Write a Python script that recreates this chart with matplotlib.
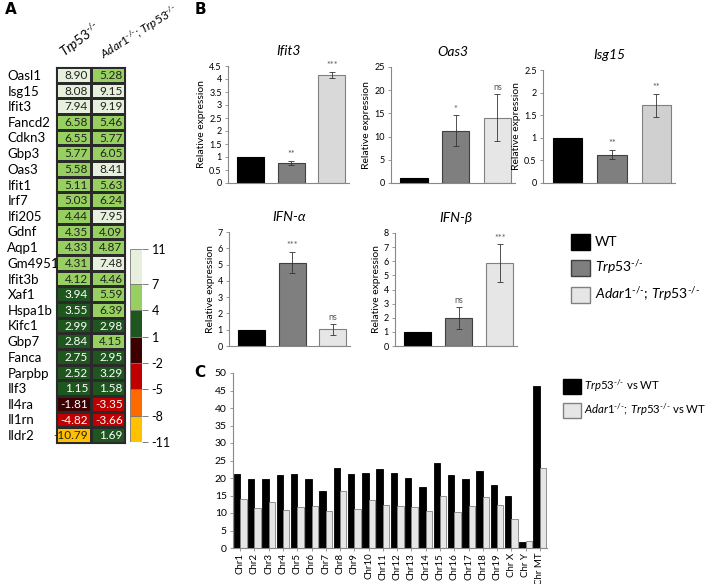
import matplotlib
matplotlib.use("Agg")
import matplotlib.pyplot as plt
import numpy as np
from matplotlib.colors import ListedColormap, BoundaryNorm
from matplotlib.patches import Patch

W, H = 707, 584
plt.rcParams['font.family'] = ['Lato', 'DejaVu Sans']
plt.rcParams['mathtext.fontset'] = 'custom'
plt.rcParams['mathtext.rm'] = 'Lato'
plt.rcParams['mathtext.it'] = 'Lato:italic'
plt.rcParams['mathtext.bf'] = 'Lato:bold'

# ---------------- data ----------------
genes = ["Oasl1", "Isg15", "Ifit3", "Fancd2", "Cdkn3", "Gbp3", "Oas3", "Ifit1", "Irf7",
         "Ifi205", "Gdnf", "Aqp1", "Gm4951", "Ifit3b", "Xaf1", "Hspa1b", "Kifc1", "Gbp7",
         "Fanca", "Parpbp", "Ilf3", "Il4ra", "Il1rn", "Ildr2"]
trp53_fc = [8.90, 8.08, 7.94, 6.58, 6.55, 5.77, 5.58, 5.11, 5.03, 4.44, 4.35, 4.33, 4.31,
            4.12, 3.94, 3.55, 2.99, 2.84, 2.75, 2.52, 1.15, -1.81, -4.82, -10.79]
adar_fc = [5.28, 9.15, 9.19, 5.46, 5.77, 6.05, 8.41, 5.63, 6.24, 7.95, 4.09, 4.87, 7.48,
           4.46, 5.59, 6.39, 2.98, 4.15, 2.95, 3.29, 1.58, -3.35, -3.66, 1.69]
bin_edges = [-11, -8, -5, -2, 1, 4, 7, 11]
bin_colors = ['#ffc000', '#ff6a00', '#c00000', '#3c0000', '#1f561f', '#97d060', '#e6f0dc']

groups = ["WT", "Trp53", "Adar1;Trp53"]
ifit3_mean = [1.0, 0.78, 4.15]
ifit3_err = [0.0, 0.07, 0.12]
ifit3_sig = ["", "**", "***"]
oas3_mean = [1.0, 11.3, 14.1]
oas3_err = [0.0, 3.3, 5.1]
oas3_sig = ["", "*", "ns"]
isg15_mean = [1.0, 0.63, 1.72]
isg15_err = [0.0, 0.11, 0.25]
isg15_sig = ["", "**", "**"]
ifna_mean = [1.0, 5.12, 1.02]
ifna_err = [0.0, 0.65, 0.33]
ifna_sig = ["", "***", "ns"]
ifnb_mean = [1.0, 1.97, 5.85]
ifnb_err = [0.0, 0.8, 1.35]
ifnb_sig = ["", "ns", "***"]

chromosomes = ["Chr1", "Chr2", "Chr3", "Chr4", "Chr5", "Chr6", "Chr7", "Chr8", "Chr9", "Chr10",
               "Chr11", "Chr12", "Chr13", "Chr14", "Chr15", "Chr16", "Chr17", "Chr18", "Chr19",
               "Chr X", "Chr Y", "Chr MT"]
trp53_vs_wt = [21.2, 19.8, 19.6, 21.0, 21.2, 19.8, 16.4, 23.0, 21.2, 21.5, 22.5, 21.4, 20.1,
               17.4, 24.4, 21.0, 19.6, 21.9, 18.1, 14.9, 1.6, 46.2]
adar_vs_wt = [14.1, 11.5, 13.2, 11.0, 11.6, 12.1, 10.6, 16.4, 11.2, 13.6, 12.2, 12.0, 11.7,
              10.6, 15.0, 10.4, 12.1, 14.5, 12.4, 8.4, 2.1, 23.0]

# ---------------- helpers ----------------
def rect(x0, y0, x1, y1):
    return [x0 / W, 1 - y1 / H, (x1 - x0) / W, (y1 - y0) / H]

fig = plt.figure(figsize=(W / 100, H / 100), dpi=100)

TRP = r'$\mathit{Trp53}^{\text{-/-}}$'
ADAR = r'$\mathit{Adar1}^{\text{-/-}}\mathit{;\,Trp53}^{\text{-/-}}$'

# ---------------- Panel A: heatmap ----------------
cmap = ListedColormap(bin_colors)
norm = BoundaryNorm(bin_edges, cmap.N)
axh = fig.add_axes(rect(56, 67, 125, 443))
mat = np.array([trp53_fc, adar_fc]).T
axh.pcolormesh(np.arange(3), np.arange(len(genes) + 1), mat, cmap=cmap, norm=norm,
               edgecolor='#2a2a2a', linewidth=0.8)
axh.set_xlim(0, 2)
axh.set_ylim(len(genes), 0)
axh.set_xticks([])
axh.set_yticks(np.arange(len(genes)) + 0.5)
axh.set_yticklabels(genes, fontsize=9.5)
axh.tick_params(axis='y', length=0, pad=35)
for lab in axh.get_yticklabels():
    lab.set_horizontalalignment('left')
for s in axh.spines.values():
    s.set_color('#2a2a2a')
    s.set_linewidth(0.8)
for i in range(len(genes)):
    for j, v in enumerate([trp53_fc[i], adar_fc[i]]):
        dark = (-5 < v < 4)
        axh.text(j + 0.93, i + 0.55, f"{v:.2f}", ha='right', va='center', fontsize=8.5,
                 color='white' if dark else '#222222')

fig.text(67 / W, 1 - 61 / H, TRP, rotation=37, rotation_mode='anchor', ha='left', va='bottom',
         fontsize=9.5)
fig.text(106 / W, 1 - 63 / H, ADAR, rotation=32, rotation_mode='anchor', ha='left', va='bottom',
         fontsize=8.5)

# colorbar
axc = fig.add_axes(rect(130, 249, 142, 442))
for k in range(len(bin_colors)):
    axc.bar(0, bin_edges[k + 1] - bin_edges[k], bottom=bin_edges[k], width=1,
            color=bin_colors[k], edgecolor='#777777', linewidth=0.6)
axc.set_xlim(-0.5, 0.5)
axc.set_ylim(-11, 11)
axc.set_xticks([])
axc.yaxis.tick_right()
axc.set_yticks(bin_edges)
axc.set_yticklabels([str(b) for b in bin_edges], fontsize=9)
axc.tick_params(axis='y', length=4, width=0.6, color='#666666', pad=3)
for s in axc.spines.values():
    s.set_visible(False)

# ---------------- Panel B: bar charts ----------------
bar_fc = ['#000000', '#7f7f7f', '#d9d9d9']
bar_ec = ['#000000', '#404040', '#808080']

def small_bar(r, title, means, errs, sigs, ymax, ystep, c3='#d9d9d9'):
    ax = fig.add_axes(rect(*r))
    x = np.arange(3)
    cols = [bar_fc[0], bar_fc[1], c3]
    ax.bar(x, means, width=0.66, color=cols, edgecolor=bar_ec, linewidth=0.8)
    for xi, m, e in zip(x, means, errs):
        if e > 0:
            ax.errorbar(xi, m, yerr=e, fmt='none', ecolor='#333333', elinewidth=0.6,
                        capsize=2, capthick=0.6)
    for xi, m, e, s in zip(x, means, errs, sigs):
        if s:
            ax.text(xi, m + e + ymax * 0.015, s, ha='center', va='bottom', fontsize=6.5,
                    color='#555555')
    ax.set_xlim(-0.55, 2.42)
    ax.set_ylim(0, ymax)
    ticks = np.arange(0, ymax + ystep / 2, ystep)
    ax.set_yticks(ticks)
    ax.set_yticklabels([f"{t:g}" for t in ticks], fontsize=6.5)
    ax.set_xticks([])
    ax.tick_params(axis='y', length=2.5, width=0.6, color='#888888', pad=2)
    for s in ['top', 'right']:
        ax.spines[s].set_visible(False)
    for s in ['left', 'bottom']:
        ax.spines[s].set_color('#888888')
        ax.spines[s].set_linewidth(0.8)
    ax.set_ylabel("Relative expression", fontsize=7.5, labelpad=2)
    ax.set_title(title, fontsize=10, style='italic', pad=8)
    return ax

small_bar((228, 66, 349, 183), "Ifit3", ifit3_mean, ifit3_err, ifit3_sig, 4.5, 0.5)
small_bar((391, 67, 515, 183), "Oas3", oas3_mean, oas3_err, oas3_sig, 25, 5, c3='#e6e6e6')
small_bar((543, 70, 675, 183), "Isg15", isg15_mean, isg15_err, isg15_sig, 2.5, 0.5, c3='#d0d0d0')
small_bar((229, 232, 350, 346), "IFN-α", ifna_mean, ifna_err, ifna_sig, 7, 1, c3='#e6e6e6')
small_bar((395, 233, 517, 346), "IFN-β", ifnb_mean, ifnb_err, ifnb_sig, 8, 1, c3='#e6e6e6')

handles_b = [Patch(facecolor='#000000', edgecolor='#000000'),
             Patch(facecolor='#7f7f7f', edgecolor='#404040'),
             Patch(facecolor='#e6e6e6', edgecolor='#808080')]
fig.legend(handles_b, ["WT", TRP, ADAR], loc='upper left',
           bbox_to_anchor=(564 / W, 1 - 227 / H), frameon=False, fontsize=10,
           handlelength=1.4, handleheight=1.35, labelspacing=0.65, handletextpad=0.35,
           borderpad=0)

# ---------------- Panel C ----------------
axC = fig.add_axes(rect(233, 373, 547, 548))
xc = np.arange(len(chromosomes))
axC.bar(xc - 0.225, trp53_vs_wt, width=0.45, color='#000000', edgecolor='#000000', linewidth=0.6)
axC.bar(xc + 0.225, adar_vs_wt, width=0.45, color='#e6e6e6', edgecolor='#808080', linewidth=0.6)
axC.set_xlim(-0.5, len(chromosomes) - 0.5)
axC.set_ylim(0, 50)
axC.set_yticks(np.arange(0, 51, 5))
axC.set_yticklabels([str(t) for t in range(0, 51, 5)], fontsize=7.5)
axC.set_xticks(xc)
axC.set_xticklabels(chromosomes, rotation=90, fontsize=7)
axC.tick_params(axis='y', length=2.5, width=0.6, color='#888888', pad=2)
axC.tick_params(axis='x', length=2, width=0.6, color='#888888', pad=1.5)
for s in ['top', 'right']:
    axC.spines[s].set_visible(False)
for s in ['left', 'bottom']:
    axC.spines[s].set_color('#888888')
    axC.spines[s].set_linewidth(0.8)

handles_c = [Patch(facecolor='#000000', edgecolor='#000000'),
             Patch(facecolor='#e6e6e6', edgecolor='#808080')]
fig.legend(handles_c, [TRP + ' vs WT', ADAR + ' vs WT'], loc='upper left',
           bbox_to_anchor=(557 / W, 1 - 372 / H), frameon=False, fontsize=8.2,
           handlelength=1.65, handleheight=1.6, labelspacing=0.65, handletextpad=0.25,
           borderpad=0)

# panel letters
fig.text(5 / W, 1 - 14 / H, "A", fontsize=11, fontweight='bold', family='DejaVu Sans')
fig.text(195 / W, 1 - 14 / H, "B", fontsize=11, fontweight='bold', family='DejaVu Sans')
fig.text(194 / W, 1 - 377 / H, "C", fontsize=11, fontweight='bold', family='DejaVu Sans')

fig.savefig("out.png", dpi=100)
